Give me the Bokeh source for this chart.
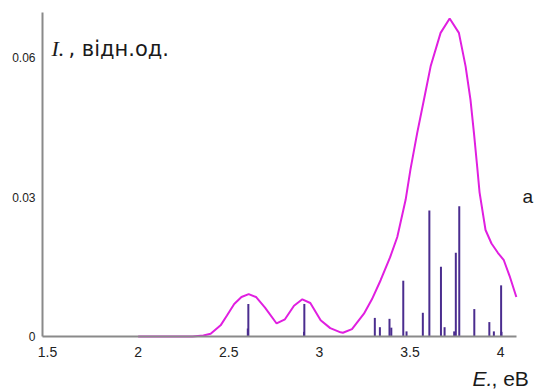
from bokeh.plotting import figure
from bokeh.models import FixedTicker, Label, Range1d
from bokeh.embed import file_html
from bokeh.resources import INLINE

# spectrum envelope (magenta curve)
curve_E = [2.00, 2.30, 2.36, 2.40, 2.455, 2.49, 2.53, 2.57, 2.61, 2.65, 2.70, 2.764,
           2.81, 2.86, 2.906, 2.95, 3.007, 3.06, 3.117, 3.13, 3.18, 3.246, 3.29,
           3.338, 3.39, 3.43, 3.476, 3.503, 3.54, 3.577, 3.614, 3.669, 3.719,
           3.770, 3.807, 3.834, 3.853, 3.871, 3.884, 3.917, 3.95, 3.985, 4.018,
           4.05, 4.087]
curve_I = [0.0, 0.0, 0.0002, 0.0006, 0.0024, 0.0045, 0.0070, 0.0085, 0.0091, 0.0085,
           0.0062, 0.0028, 0.0037, 0.0066, 0.0080, 0.0072, 0.0035, 0.0018, 0.0009,
           0.0008, 0.0016, 0.0049, 0.0080, 0.0121, 0.0170, 0.0214, 0.0294, 0.0360,
           0.0438, 0.0509, 0.0581, 0.0653, 0.0684, 0.0653, 0.0581, 0.0509, 0.0438,
           0.0365, 0.0310, 0.0229, 0.0200, 0.0180, 0.0164, 0.0130, 0.0085]

# individual transitions (purple sticks)
bar_E = [2.608, 2.605, 2.917, 2.915, 3.306, 3.334, 3.387, 3.397, 3.463, 3.481,
         3.571, 3.607, 3.671, 3.691, 3.744, 3.753, 3.772, 3.855, 3.938, 3.963,
         4.003, 4.005]
bar_I = [0.0070, 0.0017, 0.0070, 0.0010, 0.0040, 0.0020, 0.0038, 0.0019, 0.0120,
         0.0011, 0.0051, 0.0271, 0.0150, 0.0020, 0.0011, 0.0180, 0.0280, 0.0059,
         0.0031, 0.0011, 0.0110, 0.0010]

x_ticks = [1.5, 2, 2.5, 3, 3.5, 4]
x_tick_labels = ["1.5", "2", "2.5", "3", "3.5", "4"]
y_ticks = [0, 0.03, 0.06]
y_tick_labels = ["0", "0.03", "0.06"]

X0, Y0 = 1.472, 0.0
SX, SY = 181.2, 4650.0   # pixels per data unit
OX, OY = 42, 336         # pixel position of the axes' corner

p = figure(width=534, height=390, output_backend="svg", toolbar_location=None,
           x_range=Range1d(X0 - OX / SX, X0 + (534 - OX) / SX),
           y_range=Range1d(Y0 - (390 - OY) / SY, Y0 + OY / SY),
           min_border=0)
p.outline_line_color = None
p.grid.visible = False
p.background_fill_color = "white"
p.border_fill_color = "white"

p.line(curve_E, curve_I, line_color="#e01fe0", line_width=2)
p.segment(x0=bar_E, y0=[0] * len(bar_E), x1=bar_E, y1=bar_I,
          line_color="#4b2d8f", line_width=2)

for ax in (p.xaxis[0], p.yaxis[0]):
    ax.axis_line_color = "#8a8a8a"
    ax.axis_line_width = 2
    ax.major_tick_line_color = None
    ax.minor_tick_line_color = None
    ax.major_label_text_color = "#222222"
    ax.major_label_text_font = "Liberation Sans"

p.xaxis.fixed_location = Y0
p.xaxis.bounds = (X0, 4.087)
p.xaxis.ticker = FixedTicker(ticks=x_ticks)
p.xaxis.major_label_overrides = {t: s for t, s in zip(x_ticks, x_tick_labels)}
p.xaxis.major_label_text_font_size = "14px"
p.xaxis.major_label_standoff = 4

p.yaxis.fixed_location = X0
p.yaxis.bounds = (Y0, 0.0697)
p.yaxis.ticker = FixedTicker(ticks=y_ticks)
p.yaxis.major_label_overrides = {t: s for t, s in zip(y_ticks, y_tick_labels)}
p.yaxis.major_label_text_font_size = "12px"
p.yaxis.major_label_standoff = 1


def px2x(px):
    return X0 + (px - OX) / SX


def py2y(py):
    return Y0 + (OY - py) / SY


labels = [
    dict(x=px2x(51), y=py2y(48), text="I.", text_font="Liberation Serif",
         text_font_style="italic", text_font_size="22px"),
    dict(x=px2x(68), y=py2y(48), text=", відн.од.", text_font="DejaVu Sans",
         text_font_style="normal", text_font_size="21px"),
    dict(x=px2x(472), y=py2y(378), text="E.", text_font="Liberation Sans",
         text_font_style="italic", text_font_size="21px"),
    dict(x=px2x(491), y=py2y(378), text=", eB", text_font="Liberation Sans",
         text_font_style="normal", text_font_size="21px"),
    dict(x=px2x(522), y=py2y(196), text="а", text_font="Liberation Sans",
         text_font_style="normal", text_font_size="19px"),
]
for d in labels:
    p.add_layout(Label(x=d["x"], y=d["y"], text=d["text"], text_font=d["text_font"],
                       text_font_style=d["text_font_style"],
                       text_font_size=d["text_font_size"], text_color="#1a1a1a",
                       text_baseline="alphabetic", text_align="left"))

open("out.html", "w").write(file_html(p, INLINE))
